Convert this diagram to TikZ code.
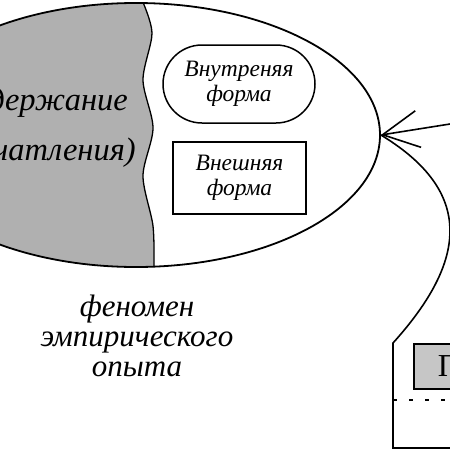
\documentclass[tikz,border=0pt]{standalone}
\usepackage{fontspec}
\setmainfont{Liberation Serif}
\usetikzlibrary{arrows.meta,shapes.geometric}

\begin{document}
\begin{tikzpicture}[x=1pt,y=-1pt]
\tikzstyle{line}=[line width=1.6pt]
\tikzstyle{formbox}=[draw, line width=1.5pt, align=center, font=\itshape\fontsize{23.5}{25}\selectfont]
\tikzstyle{roundform}=[formbox, rounded corners=39pt, minimum width=152pt, minimum height=78pt]
\tikzstyle{rectform}=[formbox, minimum width=133pt, minimum height=72pt]
\tikzstyle{bigtxt}=[font=\itshape\fontsize{32.5}{32}\selectfont, inner sep=0pt]
\tikzstyle{graybox}=[draw, line width=1.6pt, fill=gray!45, anchor=north west, minimum height=45pt, text width=50pt, inner xsep=24pt, align=left, font=\fontsize{32}{32}\selectfont]
\useasboundingbox (0,0) rectangle (450,450);
\begin{scope}
\clip (136,135) ellipse [x radius=244, y radius=132];
\filldraw[fill=gray!62, line width=1.3pt] (-20,-10) -- (142,-10) -- plot[smooth] coordinates {(142,0) (152,33) (143,80) (153,128) (143,176) (153,226) (154,270)} -- (154,290) -- (-20,290) -- cycle;
\end{scope}
\node (content1) [bigtxt, anchor=base east] at (128,110) {Содержание};
\node (content2) [bigtxt, anchor=base east] at (136,160) {(впечатления)};
\node (phen) [draw, ellipse, line width=1.8pt, minimum width=488pt, minimum height=264pt, inner sep=0pt] at (136,135) {};
\node (inner) [roundform] at (239,84) {Внутреняя\\форма};
\node (outer) [rectform] at (239.5,178) {Внешняя\\форма};
\node (caption) [font=\itshape\fontsize{31}{30}\selectfont, align=center] at (137,336) {феномен\\эмпирического\\опыта};

\coordinate (input) at (450,124);
\coordinate (corner) at (393,343);
\coordinate (dleft) at (393,400);
\node (psy) [graybox] at (413,343) {П};
\draw[line, -{Straight Barb[length=36pt, width=37pt]}] (input) -- (phen.east);
\draw[line] (phen.east) .. controls +(94,57) and +(74,-82) .. (corner) -- (393,448) -- (460,448);
\draw[line, dash pattern=on 4pt off 12pt] (dleft) -- (460,400);
\end{tikzpicture}
\end{document}
